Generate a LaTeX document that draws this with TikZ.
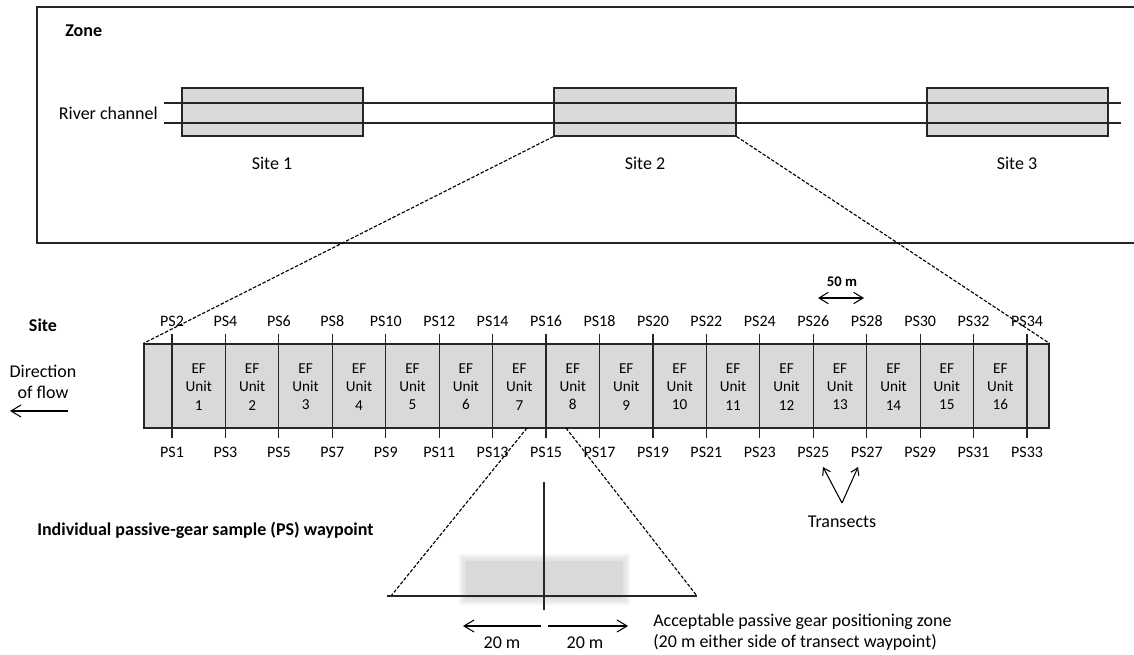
\documentclass[tikz,border=0pt]{standalone}
\usepackage{fontspec}
\setmainfont{Carlito}
\usepackage{tikz}
\usetikzlibrary{arrows.meta,positioning,fit,calc}

\begin{document}
\begin{tikzpicture}[
  x=0.75pt, y=-0.75pt,
  every node/.style={inner sep=0pt, font=\fontsize{13.5}{16}\selectfont},
  box/.style={draw=black!85, line width=.9pt, fill=black!15, inner sep=0pt},
  rule/.style={draw=black!85, line width=.9pt},
  zoomline/.style={draw=black, line width=.85pt, dash pattern=on 2.6pt off 1.3pt},
  heading/.style={font=\fontsize{13.5}{16}\selectfont\bfseries},
  pslabel/.style={font=\fontsize{12}{14}\selectfont},
  unitlabel/.style={align=center, font=\fontsize{11.4}{13.6}\selectfont},
  arrow/.style={-{Straight Barb[length=7.5pt, width=9pt]}, draw=black, line width=.8pt},
  biarrow/.style={{Straight Barb[length=7pt, width=8.5pt]}-{Straight Barb[length=7pt, width=8.5pt]}, draw=black, line width=.8pt},
  smallarrow/.style={-{Straight Barb[length=5pt, width=6.5pt]}, draw=black, line width=.8pt}
]
\useasboundingbox (0,0) rectangle (1134,655);

% zone
\node[rule, fit={(37,7) (1140,243)}] (zone) {};
\node[heading, anchor=west] (zonelabel) at (65,31) {Zone};
\node[box, fit={(182,88) (363,136)}] (site1) {};
\node[box, fit={(554,88) (736,136)}] (site2) {};
\node[box, fit={(927,88) (1108,136)}] (site3) {};
\draw[rule] (164,103) -- (1121,103);
\draw[rule] (164,123) -- (1121,123);
\node[anchor=east] (riverlabel) at (158,113) {River channel};
\node (site1label) at (272,163) {Site 1};
\node (site2label) at (645,163) {Site 2};
\node (site3label) at (1017,163) {Site 3};

% site
\node[box, fit={(144,344) (1049,428)}] (strip) {};
\draw[zoomline] (site2.south west) -- (strip.north west);
\draw[zoomline] (site2.south east) -- (strip.north east);
\node[heading] (sitelabel) at (43,325) {Site};
\node[align=center] (flowlabel) at (43,382) {Direction\\of flow};
\coordinate (flowstart) at (68,411);
\coordinate (flowend) at (10,411);
\draw[arrow] (flowstart) -- (flowend);

\foreach \i in {0,...,16} {
  \pgfmathsetmacro{\tx}{172+\i*53.44}
  \pgfmathtruncatemacro{\psup}{2*\i+2}
  \pgfmathtruncatemacro{\psdown}{2*\i+1}
  \draw[rule] (\tx,334) -- (\tx,438);
  \node[pslabel] (ps\psup) at (\tx,321) {PS\psup};
  \node[pslabel] (ps\psdown) at (\tx,452) {PS\psdown};
}
\foreach \i in {1,...,16} {
  \pgfmathsetmacro{\ux}{172+(\i-0.5)*53.44}
  \node[unitlabel] (unit\i) at (\ux,387) {EF\\Unit\\\i};
}

\node[font=\fontsize{11}{13}\selectfont\bfseries] (spacing) at (842,282) {50 m};
\coordinate (spacingL) at (818,298);
\coordinate (spacingR) at (864,298);
\draw[biarrow] (spacingL) -- (spacingR);

\node (transects) at (842,522) {Transects};
\coordinate (transectfoot) at (842,503);
\coordinate (transectA) at (823,467);
\coordinate (transectB) at (858,467);
\draw[smallarrow] (transectfoot) -- (transectA);
\draw[smallarrow] (transectfoot) -- (transectB);

% passive-gear waypoint
\node[heading, anchor=west] (waypointlabel) at (37,530) {Individual passive-gear sample (PS) waypoint};
\foreach \d in {7,6,...,1} {
  \fill[black!15, opacity=.18] (466-\d,561-\d) rectangle (623+\d,598+\d);
}
\fill[black!15] (466,561) rectangle (623,598);
\coordinate (zoomL) at (527,428);
\coordinate (zoomR) at (566,428);
\coordinate (gearL) at (391,596);
\coordinate (gearR) at (697,596);
\draw[zoomline] (zoomL) -- (gearL);
\draw[zoomline] (zoomR) -- (gearR);
\draw[rule] (387,596) -- (gearR);
\coordinate (waypointtop) at (544,482);
\coordinate (waypointfoot) at (544,610);
\draw[rule] (waypointtop) -- (waypointfoot);
\draw[arrow] (541,626) -- (463,626);
\draw[arrow] (548,626) -- (628,626);
\node (leftrange) at (502,643) {20 m};
\node (rightrange) at (585,643) {20 m};
\node[anchor=west, align=left] (zonenote) at (653,632) {Acceptable passive gear positioning zone\\(20 m either side of transect waypoint)};
\end{tikzpicture}
\end{document}
